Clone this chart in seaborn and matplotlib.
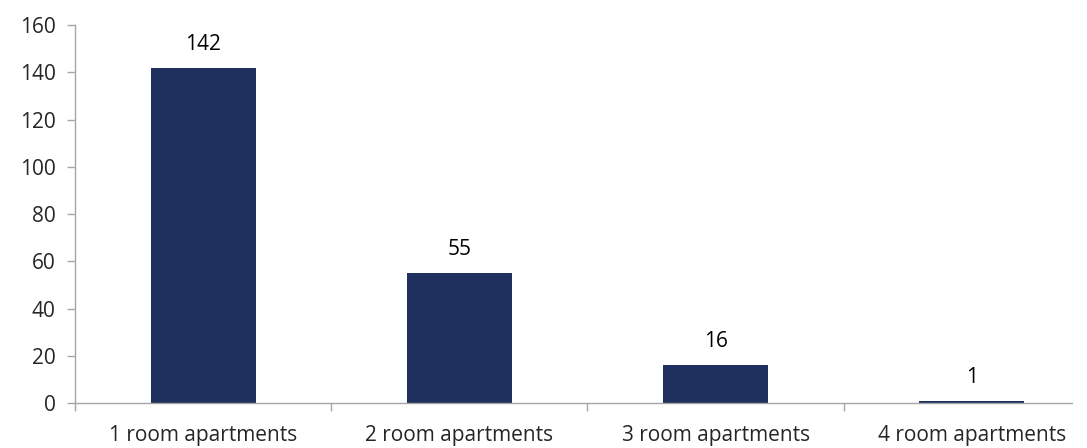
import seaborn as sns
import matplotlib.pyplot as plt
from matplotlib.ticker import FixedLocator

categories = ['1 room apartments', '2 room apartments', '3 room apartments', '4 room apartments']
counts = [142, 55, 16, 1]

sns.set_style('white')
plt.rcParams['font.family'] = ['Open Sans', 'DejaVu Sans']

fig = plt.figure(figsize=(10.87, 4.48), dpi=100)
ax = fig.add_axes([0.069, 0.100, 0.917, 0.844])

sns.barplot(x=categories, y=counts, color='#1F2F5E', width=0.41, saturation=1,
            linewidth=0, ax=ax)

for i, v in enumerate(counts):
    ax.text(i, v + 5.5, str(v), ha='center', va='bottom', fontsize=15, color='#000000')

ax.set_ylim(0, 160)
ax.set_yticks(range(0, 161, 20))
ax.set_xlim(-0.5, 3.39)
ax.xaxis.set_minor_locator(FixedLocator([-0.5, 0.5, 1.5, 2.5, 3.5]))
ax.tick_params(axis='x', which='major', bottom=False, length=0, pad=16, labelsize=15)
ax.tick_params(axis='x', which='minor', bottom=True, length=6, width=1,
               color='#A6A6A6', direction='out')
ax.tick_params(axis='y', left=True, length=6, width=1, color='#A6A6A6',
               direction='out', labelsize=15, pad=8)

for s in ['top', 'right']:
    ax.spines[s].set_visible(False)
for s in ['left', 'bottom']:
    ax.spines[s].set_color('#A6A6A6')
    ax.spines[s].set_linewidth(1)

fig.savefig('out.png', dpi=100)
